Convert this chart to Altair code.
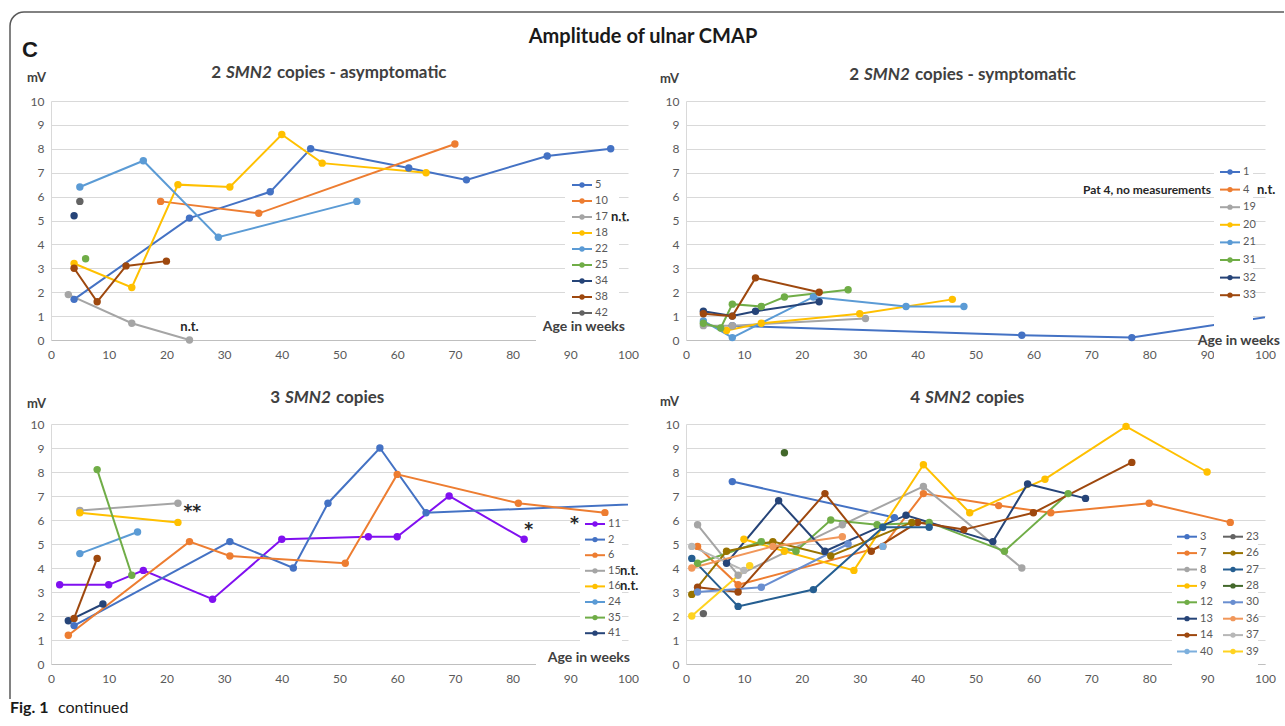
import altair as alt
import pandas as pd

FONT = "Lato"
GRID = "#D9D9D9"
AXIS_LINE = "#BFBFBF"
TICK_LABEL = "#595959"
TEXT_DARK = "#404040"

X_TICKS = list(range(0, 101, 10))
Y_TICKS = list(range(0, 11))

# ---------------- Panel A: 2 SMN2 copies - asymptomatic ----------------
a_ids = ["5", "10", "17", "18", "22", "25", "34", "38", "42"]
a_colors = ["#4472C4", "#ED7D31", "#A5A5A5", "#FFC000", "#5B9BD5", "#70AD47", "#264478", "#9E480E", "#636363"]
a_patient = ["5"] * 8 + ["10"] * 3 + ["17"] * 3 + ["18"] * 7 + ["22"] * 4 + ["25"] + ["34"] + ["38"] * 4 + ["42"]
a_week = [4, 24, 38, 45, 62, 72, 86, 97,
          19, 36, 70,
          3, 14, 24,
          4, 14, 22, 31, 40, 47, 65,
          5, 16, 29, 53,
          6,
          4,
          4, 8, 13, 20,
          5]
a_mv = [1.7, 5.1, 6.2, 8.0, 7.2, 6.7, 7.7, 8.0,
        5.8, 5.3, 8.2,
        1.9, 0.7, 0.0,
        3.2, 2.2, 6.5, 6.4, 8.6, 7.4, 7.0,
        6.4, 7.5, 4.3, 5.8,
        3.4,
        5.2,
        3.0, 1.6, 3.1, 3.3,
        5.8]

# ---------------- Panel B: 2 SMN2 copies - symptomatic ----------------
b_ids = ["1", "4", "19", "20", "21", "31", "32", "33"]
b_colors = ["#4472C4", "#ED7D31", "#A5A5A5", "#FFC000", "#5B9BD5", "#70AD47", "#264478", "#9E480E"]
b_patient = ["1"] * 4 + ["19"] * 3 + ["20"] * 4 + ["21"] * 5 + ["31"] * 6 + ["32"] * 4 + ["33"] * 4
b_week = [8, 58, 77, 104,
          3, 8, 31,
          7, 13, 30, 46,
          3, 8, 22, 38, 48,
          3, 6, 8, 13, 17, 28,
          3, 8, 12, 23,
          3, 8, 12, 23]
b_mv = [0.6, 0.2, 0.1, 1.1,
        0.6, 0.6, 0.9,
        0.4, 0.7, 1.1, 1.7,
        0.8, 0.1, 1.8, 1.4, 1.4,
        0.7, 0.5, 1.5, 1.4, 1.8, 2.1,
        1.2, 1.0, 1.2, 1.6,
        1.1, 1.0, 2.6, 2.0]

# ---------------- Panel C: 3 SMN2 copies ----------------
c_ids = ["11", "2", "6", "15", "16", "24", "35", "41"]
c_colors = ["#8010F0", "#4472C4", "#ED7D31", "#A5A5A5", "#FFC000", "#5B9BD5", "#70AD47", "#264478"]
c_extra_id = ["unlisted"]
c_extra_color = ["#9E480E"]
c_patient = ["11"] * 9 + ["2"] * 7 + ["6"] * 7 + ["15"] * 2 + ["16"] * 2 + ["24"] * 2 + ["35"] * 2 + ["41"] * 2 + ["unlisted"] * 2
c_week = [1.5, 10, 16, 28, 40, 55, 60, 69, 82,
          4, 31, 42, 48, 57, 65, 120,
          3, 24, 31, 51, 60, 81, 96,
          5, 22,
          5, 22,
          5, 15,
          8, 14,
          3, 9,
          4, 8]
c_mv = [3.3, 3.3, 3.9, 2.7, 5.2, 5.3, 5.3, 7.0, 5.2,
        1.6, 5.1, 4.0, 6.7, 9.0, 6.3, 6.85,
        1.2, 5.1, 4.5, 4.2, 7.9, 6.7, 6.3,
        6.4, 6.7,
        6.3, 5.9,
        4.6, 5.5,
        8.1, 3.7,
        1.8, 2.5,
        1.9, 4.4]

# ---------------- Panel D: 4 SMN2 copies ----------------
d_ids_col1 = ["3", "7", "8", "9", "12", "13", "14", "40"]
d_colors_col1 = ["#4472C4", "#ED7D31", "#A5A5A5", "#FFC000", "#70AD47", "#264478", "#9E480E", "#7CAFDD"]
d_ids_col2 = ["23", "26", "27", "28", "30", "36", "37", "39"]
d_colors_col2 = ["#636363", "#997300", "#255E91", "#43682B", "#698ED0", "#F1975A", "#B7B7B7", "#FFD320"]
d_patient = (["3"] * 2 + ["7"] * 8 + ["8"] * 5 + ["9"] * 8 + ["12"] * 8 + ["13"] * 7 + ["14"] * 8 + ["40"] * 1
             + ["23"] + ["26"] * 5 + ["27"] * 5 + ["28"] + ["30"] * 3 + ["36"] * 3 + ["37"] * 2 + ["39"] * 2)
d_week = [8, 36,
          2, 9, 34, 41, 54, 63, 80, 94,
          2, 9, 27, 41, 58,
          10, 17, 29, 41, 49, 62, 76, 90,
          2, 13, 19, 25, 33, 42, 55, 66,
          7, 16, 24, 38, 53, 59, 69,
          2, 9, 24, 32, 40, 48, 60, 77,
          34,
          3,
          1, 7, 15, 25, 39,
          1, 9, 22, 34, 42,
          17,
          2, 13, 28,
          1, 15, 27,
          1, 10,
          1, 11]
d_mv = [7.6, 6.1,
        4.9, 3.3, 4.9, 7.1, 6.6, 6.3, 6.7, 5.9,
        5.8, 3.7, 5.8, 7.4, 4.0,
        5.2, 4.7, 3.9, 8.3, 6.3, 7.7, 9.9, 8.0,
        4.2, 5.1, 4.7, 6.0, 5.8, 5.9, 4.7, 7.1,
        4.2, 6.8, 4.7, 6.2, 5.1, 7.5, 6.9,
        3.2, 3.0, 7.1, 4.7, 5.9, 5.6, 6.3, 8.4,
        4.9,
        2.1,
        2.9, 4.7, 5.1, 4.5, 5.9,
        4.4, 2.4, 3.1, 5.7, 5.7,
        8.8,
        3.0, 3.2, 5.0,
        4.0, 4.9, 5.3,
        4.9, 3.9,
        2.0, 4.1]


# ---------------- helpers ----------------
def txt(s, x, y, size=13, weight="bold", style="normal", align="left", color=TEXT_DARK, font=FONT):
    return alt.Chart(pd.DataFrame({"t": [s]})).mark_text(
        align=align, baseline="middle", fontSize=size, fontWeight=weight,
        fontStyle=style, font=font, color=color
    ).encode(x=alt.value(x), y=alt.value(y), text="t:N")


def white_box(x1, x2, y1, y2):
    return alt.Chart(pd.DataFrame({"a": [0]})).mark_rect(color="white").encode(
        x=alt.value(x1), x2=alt.value(x2), y=alt.value(y1), y2=alt.value(y2))


def panel_title(prefix, suffix, smn_left, y):
    return [
        txt(prefix, smn_left - 5, y, size=17, align="right"),
        txt("SMN2", smn_left, y, size=17, style="italic"),
        txt(suffix, smn_left + 51, y, size=17),
    ]


def legend_rows(y0, step):
    return alt.Y("row:Q", scale=alt.Scale(domain=[0, 10], range=[y0, y0 + 10 * step], nice=False, zero=False),
                 axis=None)


def legend_column(ids, color, y_enc, x0):
    d = pd.DataFrame({"patient": ids, "row": list(range(len(ids)))})
    base = alt.Chart(d)
    return [
        base.mark_rule(strokeWidth=2).encode(x=alt.value(x0), x2=alt.value(x0 + 20), y=y_enc, color=color),
        base.mark_point(filled=True, size=28, opacity=1).encode(x=alt.value(x0 + 10), y=y_enc, color=color),
        base.mark_text(align="left", baseline="middle", fontSize=11, font=FONT, color=TICK_LABEL).encode(
            x=alt.value(x0 + 23), y=y_enc, text="patient:N"),
    ]


def legend_notes(ids, notes, y_enc, x, align="left", size=13, font=FONT):
    d = pd.DataFrame({"row": [ids.index(k) for k in notes], "t": list(notes.values())})
    return alt.Chart(d).mark_text(align=align, baseline="middle", fontSize=size, fontWeight="bold",
                                  font=font, color="#262626").encode(x=alt.value(x), y=y_enc, text="t:N")


def panel(patient, week, mv, dom_ids, dom_colors, width, height, annotations, legend_parts, decos):
    df = pd.DataFrame({"patient": patient, "week": week, "mv": mv})
    color = alt.Color("patient:N", scale=alt.Scale(domain=dom_ids, range=dom_colors), legend=None)
    x = alt.X("week:Q", scale=alt.Scale(domain=[0, 100], nice=False, zero=False),
              axis=alt.Axis(values=X_TICKS, title=None, grid=False, domainColor=AXIS_LINE, domainWidth=1,
                            ticks=False, labelColor=TICK_LABEL, labelFontSize=12, labelFont=FONT,
                            labelPadding=9, labelFlush=False))
    y = alt.Y("mv:Q", scale=alt.Scale(domain=[0, 10], nice=False, zero=False),
              axis=alt.Axis(values=Y_TICKS, title=None, grid=True, gridColor=GRID, gridWidth=1,
                            domainColor=GRID, ticks=False, labelColor=TICK_LABEL, labelFontSize=12,
                            labelFont=FONT, labelPadding=7))
    base = alt.Chart(df)
    lines = base.mark_line(strokeWidth=2, clip=True).encode(x=x, y=y, color=color, order="week:Q")
    points = base.transform_filter("datum.week <= 100").mark_point(
        filled=True, size=55, opacity=1).encode(x=x, y=y, color=color)
    ann_layers = []
    for (wk, val, s, size) in annotations:
        ann_layers.append(
            alt.Chart(pd.DataFrame({"week": [wk], "mv": [val], "t": [s]})).mark_text(
                fontSize=size, fontWeight="bold", font="DejaVu Sans" if "*" in s else FONT,
                color="#262626", baseline="middle").encode(x=x, y=y, text="t:N"))
    data_layer = alt.layer(lines, points, *ann_layers)
    legend_layer = alt.layer(*[p(color) if callable(p) else p for p in legend_parts])
    return alt.layer(data_layer, legend_layer, *decos).resolve_scale(y="independent").properties(
        width=width, height=height)


# ---------------- Panel A ----------------
ya = legend_rows(84, 16)
pA = panel(
    a_patient, a_week, a_mv, a_ids, a_colors, 577, 239,
    annotations=[(24, 0.55, "n.t.", 13)],
    legend_parts=[white_box(514, 568, 76, 220), white_box(485, 578, 214, 242)]
    + [lambda c: alt.layer(*legend_column(a_ids, c, ya, 521))]
    + [legend_notes(a_ids, {"17": "n.t."}, ya, 560)],
    decos=[
        # figure frame, panel letter, main title, footer
        white_box(-51, -50, -101, -100),
        alt.Chart(pd.DataFrame({"a": [0]})).mark_rule(color="#595959", strokeWidth=1.5).encode(
            x=alt.value(-27), x2=alt.value(1233), y=alt.value(-89)),
        alt.Chart(pd.DataFrame({"a": [0]})).mark_rule(color="#595959", strokeWidth=1.5).encode(
            x=alt.value(-41), y=alt.value(-75), y2=alt.value(598)),
        alt.Chart(pd.DataFrame({"a": [0]})).mark_arc(
            radius=14.75, radius2=13.25, theta=4.712389, theta2=6.283185, color="#595959").encode(
            x=alt.value(-27), y=alt.value(-75)),
        txt("C", -29, -51, size=22, color="#1A1A1A", font="Liberation Sans"),
        txt("Amplitude of ulnar CMAP", 592, -64, size=20, align="center", color="#1A1A1A"),
        txt("Fig. 1", -41, 607, size=16, color="#1A1A1A"),
        txt("continued", 7, 607, size=16, weight="normal", color="#1A1A1A"),
        txt("mV", -24, -23, size=13),
        txt("Age in weeks", 574, 226, size=14, align="right"),
    ] + panel_title("2", "copies - asymptomatic", 175, -28),
)

# ---------------- Panel B ----------------
yb = legend_rows(71, 17.6)
pB = panel(
    b_patient, b_week, b_mv, b_ids, b_colors, 579, 239,
    annotations=[],
    legend_parts=[white_box(528, 567, 62, 305)]
    + [lambda c: alt.layer(*legend_column(b_ids, c, yb, 534))]
    + [legend_notes(b_ids, {"4": "n.t."}, yb, 571),
       legend_notes(b_ids, {"4": "Pat 4, no measurements"}, yb, 525, align="right", size=12)],
    decos=[
        txt("mV", -26, -22, size=13),
        txt("Age in weeks", 594, 240, size=14, align="right"),
    ] + panel_title("2", "copies - symptomatic", 178, -26),
)

# ---------------- Panel C ----------------
yc = legend_rows(100, 15.6)
pC = panel(
    c_patient, c_week, c_mv, c_ids + c_extra_id, c_colors + c_extra_color, 577, 240,
    annotations=[(24.5, 6.35, "**", 17), (82.8, 5.6, "*", 17)],
    legend_parts=[white_box(529, 571, 92, 218), white_box(485, 580, 222, 246)]
    + [lambda c: alt.layer(*legend_column(c_ids, c, yc, 534))]
    + [legend_notes(c_ids, {"15": "n.t.", "16": "n.t."}, yc, 569),
       legend_notes(c_ids, {"11": "*"}, yc, 528, align="right", size=17, font="DejaVu Sans")],
    decos=[
        txt("mV", -24, -20, size=13),
        txt("Age in weeks", 579, 234, size=14, align="right"),
    ] + panel_title("3", "copies", 234, -26),
)

# ---------------- Panel D ----------------
yd = legend_rows(112.7, 16.4)
pD = panel(
    d_patient, d_week, d_mv, d_ids_col1 + d_ids_col2, d_colors_col1 + d_colors_col2, 579, 240,
    annotations=[],
    legend_parts=[white_box(486, 572, 103, 241)]
    + [lambda c: alt.layer(*legend_column(d_ids_col1, c, yd, 491), *legend_column(d_ids_col2, c, yd, 537))],
    decos=[
        txt("mV", -26, -22, size=13),
    ] + panel_title("4", "copies", 239, -26),
)

chart = alt.concat(
    pA, pB, pC, pD, columns=2, spacing={"row": 84, "column": 58}, bounds="flush"
).resolve_scale(color="independent").properties(padding=0, background="white").configure_view(stroke=None)

chart.save("out.html", embed_options={"renderer": "svg", "actions": False})
